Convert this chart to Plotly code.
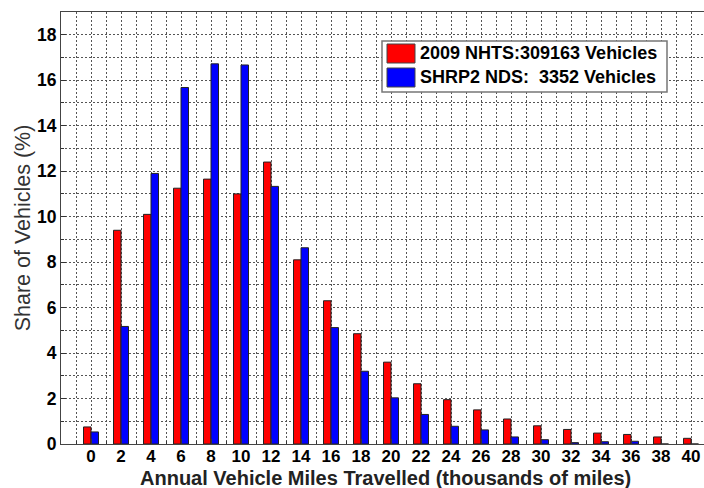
import plotly.graph_objects as go

# Annual vehicle miles travelled bins (thousands of miles)
miles_bins = [0, 2, 4, 6, 8, 10, 12, 14, 16, 18, 20, 22, 24, 26, 28, 30, 32, 34, 36, 38, 40]

# Share of vehicles (%) per bin
nhts_share = [0.75, 9.4, 10.1, 11.25, 11.65, 11.0, 12.4, 8.1, 6.3, 4.85, 3.6, 2.65, 1.95,
              1.5, 1.1, 0.8, 0.64, 0.48, 0.42, 0.31, 0.25]
shrp2_share = [0.53, 5.17, 11.9, 15.68, 16.72, 16.67, 11.33, 8.63, 5.12, 3.2, 2.03, 1.3, 0.78,
               0.62, 0.31, 0.19, 0.06, 0.1, 0.12, 0.0, 0.0]

series_names = ["2009 NHTS:309163 Vehicles", "SHRP2 NDS:\u00a0\u00a03352 Vehicles"]
series_colors = ["#ff0000", "#0000ff"]

y_ticks = [0, 2, 4, 6, 8, 10, 12, 14, 16, 18]

x_title = "Annual Vehicle Miles Travelled (thousands of miles)"
y_title = "Share of Vehicles (%)"

W, H = 704, 488
L, R, T, B = 61, 0, 12, 44
PW, PH = W - L - R, H - T - B

fig = go.Figure()
for name, vals, col in zip(series_names, [nhts_share, shrp2_share], series_colors):
    fig.add_trace(go.Bar(
        x=miles_bins, y=vals, name=name,
        marker=dict(color=col, line=dict(color="#222222", width=1)),
        showlegend=False,
    ))

grid_dash = "2px,2px"
grid_col = "#555555"
font_main = "Liberation Sans, Arial, sans-serif"

fig.update_layout(
    width=W, height=H,
    margin=dict(l=L, r=R, t=T, b=B, pad=0),
    paper_bgcolor="white", plot_bgcolor="white",
    barmode="group", bargap=0.5, bargroupgap=0,
    font=dict(family=font_main, color="black"),
    xaxis=dict(
        range=[-2, -2 + PW / 15.0],
        tickmode="array", tickvals=miles_bins, ticktext=[str(v) for v in miles_bins],
        tickfont=dict(size=17, family=font_main, color="black", weight="bold"),
        ticklabelstandoff=-3,
        showgrid=True, gridcolor=grid_col, griddash=grid_dash, gridwidth=1,
        minor=dict(dtick=1, tick0=1, showgrid=True, gridcolor=grid_col, griddash=grid_dash,
                   gridwidth=1, ticks="inside", ticklen=3, tickcolor="#333"),
        ticks="inside", ticklen=5, tickcolor="#333",
        showline=True, linecolor="#444444", linewidth=1, mirror=True,
        zeroline=False,
    ),
    yaxis=dict(
        range=[0, 19],
        tickmode="array", tickvals=y_ticks, ticktext=[str(v) for v in y_ticks],
        tickfont=dict(size=17.5, family=font_main, color="black", weight="bold"),
        showgrid=True, gridcolor=grid_col, griddash=grid_dash, gridwidth=1,
        minor=dict(dtick=1, tick0=1, showgrid=True, gridcolor=grid_col, griddash=grid_dash,
                   gridwidth=1, ticks="inside", ticklen=3, tickcolor="#333"),
        ticks="inside", ticklen=5, tickcolor="#333",
        showline=True, linecolor="#444444", linewidth=1, mirror=False,
        zeroline=False,
        title=dict(text=y_title,
                   font=dict(size=21.5, family=font_main, color="#333333"), standoff=0),
    ),
)


def px_x(p):
    return (p - L) / PW


def px_y(p):
    return (H - B - p) / PH


annotations = [dict(xref="paper", yref="paper", x=px_x(385), y=px_y(478),
                    text="<b>" + x_title + "</b>", showarrow=False,
                    xanchor="center", yanchor="middle",
                    font=dict(size=20, family=font_main, color="#222222"))]

# Legend box with colour patches
shapes = [dict(type="rect", xref="paper", yref="paper",
               x0=px_x(382), x1=px_x(667), y0=px_y(92), y1=px_y(41),
               line=dict(color="#777777", width=1.5), fillcolor="white", layer="above")]
rows = [(44, 63), (68, 87)]
for (y0, y1), col, name in zip(rows, series_colors, series_names):
    shapes.append(dict(type="rect", xref="paper", yref="paper",
                       x0=px_x(387), x1=px_x(415), y0=px_y(y1), y1=px_y(y0),
                       line=dict(color="#444444", width=1), fillcolor=col, layer="above"))
    annotations.append(dict(xref="paper", yref="paper", x=px_x(418), y=px_y((y0 + y1) / 2),
                            text="<b>" + name + "</b>", showarrow=False,
                            xanchor="left", yanchor="middle",
                            font=dict(size=18, family=font_main, color="black")))

fig.update_layout(shapes=shapes, annotations=annotations)
fig.write_html("out.html")
